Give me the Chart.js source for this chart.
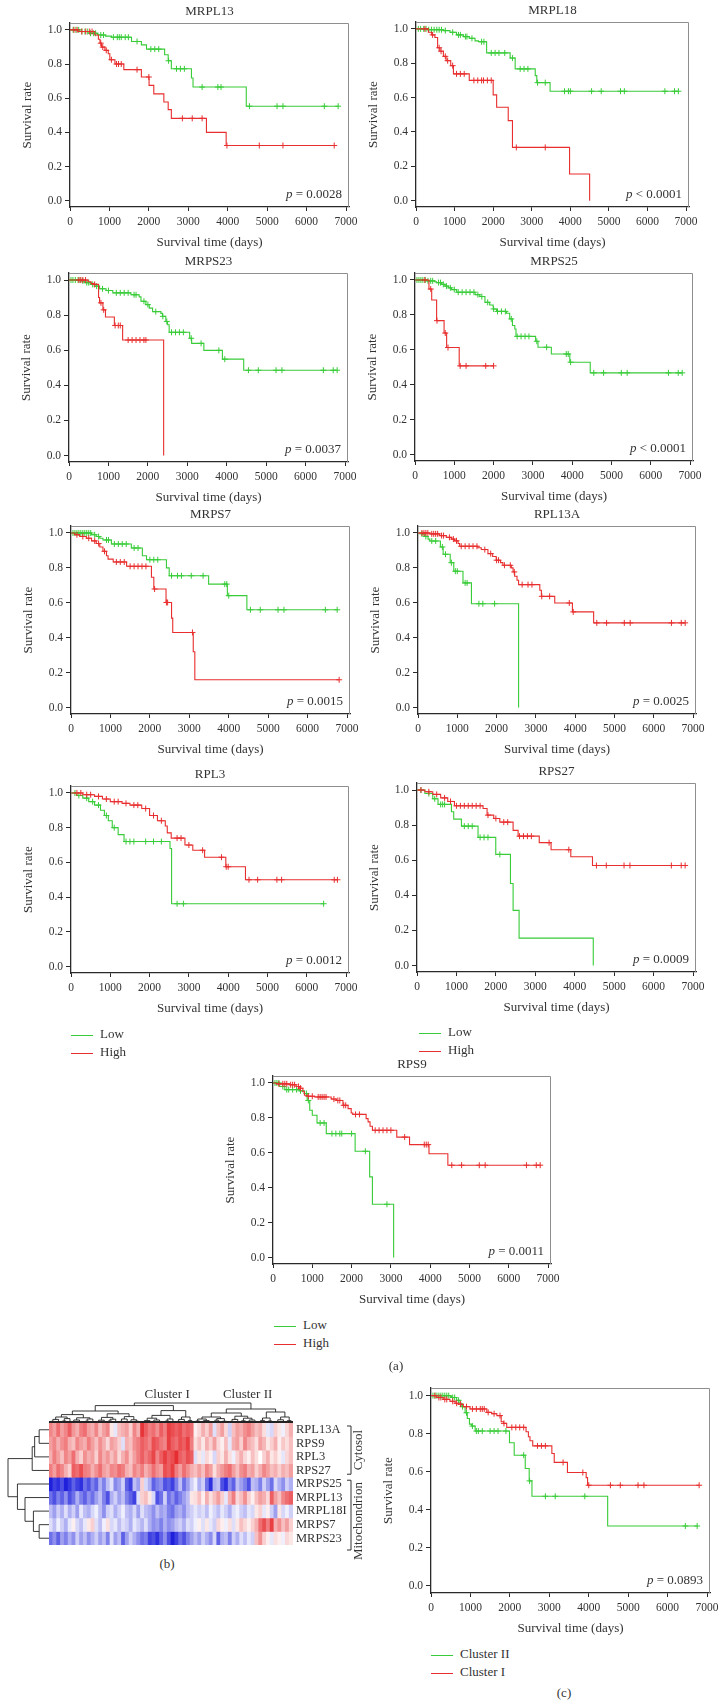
<!DOCTYPE html>
<html>
<head>
<meta charset="utf-8">
<script src="https://cdn.jsdelivr.net/npm/chart.js@4.4.1/dist/chart.umd.min.js"></script>
<style>
  body { margin: 0; background: #fff; }
  #page { position: relative; width: 726px; height: 1708px; overflow: hidden;
          font-family: 'Liberation Serif', 'DejaVu Serif', serif; color: #333; }
  canvas { position: absolute; }
  .lbl { position: absolute; font-size: 13px; line-height: 16px; white-space: nowrap; transform: translate(-50%, -50%); }
  .leg { position: absolute; font-size: 13px; line-height: 18px; white-space: nowrap; }
  .leg .ln { display: inline-block; width: 22px; height: 0; border-top: 1.3px solid; vertical-align: middle; margin-right: 7px; }
</style>
</head>
<body>
<div id="page"></div>
<script>
// ---- data: Kaplan-Meier steps [time, survival] and censor times ----
const mrpl13Low = [[0,1],[250,0.99],[480,0.98],[700,0.97],[900,0.963],[1050,0.957],[1560,0.932],[1810,0.912],[1940,0.887],[2400,0.854],[2490,0.819],[2570,0.772],[3080,0.718],[3120,0.665],[4470,0.553]];
const mrpl13LowCens = [80,150,220,300,380,450,520,600,650,780,850,1100,1200,1250,1300,1400,1480,1700,2050,2150,2250,2500,2700,2800,2900,3350,3750,3830,4550,5250,5400,6450,6800];
const mrpl13High = [[0,1],[200,0.99],[630,0.97],[720,0.945],[760,0.922],[800,0.899],[885,0.88],[970,0.86],[1010,0.825],[1140,0.80],[1365,0.767],[1810,0.724],[2005,0.675],[2125,0.625],[2380,0.578],[2490,0.533],[2570,0.482],[3460,0.40],[3960,0.323]];
const mrpl13HighCens = [100,180,300,400,500,560,780,830,920,1050,1180,1230,1300,1700,2000,2850,3100,3350,3980,4800,5400,6700];

const mrpl18Low = [[0,1],[300,0.995],[710,0.99],[880,0.98],[1050,0.965],[1230,0.955],[1380,0.945],[1530,0.93],[1620,0.925],[1830,0.86],[2440,0.83],[2570,0.767],[3090,0.728],[3130,0.687],[3475,0.637]];
const mrpl18LowCens = [60,120,200,260,330,400,470,540,600,660,760,950,1100,1150,1280,1320,1450,1700,1760,1950,2050,2150,2300,2500,2700,2800,2900,3150,3350,3850,3950,4000,4550,4800,5300,5400,6450,6700,6800];
const mrpl18High = [[0,1],[320,0.98],[405,0.965],[490,0.95],[560,0.89],[620,0.87],[710,0.84],[780,0.815],[900,0.786],[970,0.738],[1380,0.70],[2000,0.616],[2090,0.544],[2390,0.466],[2500,0.31],[3980,0.155],[4500,0]];
const mrpl18HighCens = [230,430,600,650,760,820,950,1050,1150,1250,1500,1600,1700,1750,1850,1950,2600,3350];

const mrps23Low = [[0,1],[300,0.995],[400,0.985],[550,0.975],[650,0.965],[775,0.95],[940,0.94],[1110,0.927],[1570,0.916],[1780,0.904],[1825,0.879],[1950,0.86],[2035,0.84],[2120,0.82],[2330,0.81],[2370,0.793],[2455,0.764],[2500,0.745],[2540,0.702],[3060,0.668],[3110,0.639],[3420,0.599],[3890,0.549],[4430,0.486]];
const mrps23LowCens = [50,100,160,230,280,350,450,500,600,700,850,1000,1200,1300,1400,1500,1650,1700,1900,2000,2200,2380,2480,2600,2700,2800,2900,3100,3350,3800,3950,4550,4800,5250,5400,6450,6700,6800];
const mrps23High = [[0,1],[480,0.99],[560,0.98],[650,0.975],[750,0.9],[775,0.87],[860,0.83],[925,0.789],[1150,0.741],[1360,0.658],[2400,0]];
const mrps23HighCens = [250,300,350,420,650,810,880,1170,1250,1300,1500,1600,1700,1800,1900,1950];

const mrps25Low = [[0,1],[300,0.995],[500,0.99],[550,0.985],[680,0.975],[760,0.965],[850,0.955],[930,0.945],[1060,0.93],[1530,0.916],[1650,0.905],[1780,0.872],[1900,0.857],[1990,0.834],[2075,0.82],[2330,0.809],[2410,0.777],[2480,0.739],[2540,0.719],[2570,0.677],[3070,0.649],[3130,0.615],[3470,0.576],[3940,0.529],[4460,0.468]];
const mrps25LowCens = [50,100,150,200,260,330,400,450,600,650,720,800,900,1000,1100,1200,1300,1400,1500,1600,1700,1850,2000,2100,2200,2300,2450,2600,2700,2800,2900,3100,3350,3850,3900,3960,4550,4800,5250,5400,6450,6700,6800];
const mrps25High = [[0,1],[355,0.948],[425,0.885],[550,0.767],[740,0.696],[805,0.613],[1125,0.508]];
const mrps25HighCens = [250,400,560,770,840,1150,1300,1800,2000];

const mrps7Low = [[0,1],[520,0.99],[640,0.98],[730,0.97],[810,0.96],[1025,0.937],[1530,0.914],[1810,0.87],[1915,0.847],[2420,0.80],[2490,0.755],[3490,0.707],[3965,0.641],[4460,0.56]];
const mrps7LowCens = [50,100,150,200,250,300,350,400,450,500,600,700,900,950,1100,1200,1300,1400,1600,1700,2000,2100,2200,2550,2700,2800,3050,3350,3900,3950,4000,4550,4800,5250,5400,6450,6750];
const mrps7High = [[0,1],[95,0.99],[220,0.98],[390,0.97],[520,0.955],[640,0.94],[730,0.92],[810,0.895],[900,0.87],[940,0.85],[1070,0.834],[1410,0.809],[2040,0.746],[2100,0.679],[2410,0.602],[2550,0.512],[2580,0.43],[3100,0.32],[3140,0.159]];
const mrps7HighCens = [150,300,450,600,700,850,1150,1250,1350,1500,1600,1700,1800,1900,2120,2420,2450,3080,6800];

const rpl13aLow = [[0,1],[85,0.995],[170,0.98],[255,0.965],[300,0.954],[570,0.92],[640,0.878],[820,0.83],[910,0.781],[1145,0.714],[1360,0.595],[2560,0]];
const rpl13aLowCens = [100,200,350,450,620,700,850,950,1000,1200,1250,1550,1650,1950];
const rpl13aHigh = [[0,1],[300,0.995],[550,0.985],[720,0.975],[850,0.965],[930,0.955],[1020,0.94],[1060,0.924],[1525,0.915],[1610,0.905],[1780,0.882],[1900,0.865],[1990,0.844],[2100,0.83],[2160,0.815],[2375,0.80],[2420,0.777],[2460,0.752],[2520,0.729],[2560,0.704],[3100,0.672],[3140,0.637],[3480,0.599],[3930,0.548],[4470,0.485]];
const rpl13aHighCens = [100,150,200,250,350,400,450,500,600,650,800,900,980,1100,1200,1300,1400,1500,1700,1850,2000,2050,2200,2350,2450,2650,2800,2900,3150,3350,3850,3950,4550,4800,5250,5400,6450,6700,6800];

const rpl3Low = [[0,1],[150,0.985],[300,0.97],[450,0.95],[600,0.93],[750,0.9],[850,0.87],[950,0.84],[1050,0.8],[1200,0.76],[1350,0.72],[2520,0.68],[2560,0.362]];
const rpl3LowCens = [100,200,400,550,700,900,1100,1400,1500,1600,1900,2100,2300,2700,2860,6430];
const rpl3High = [[0,1],[300,0.99],[600,0.98],[800,0.965],[1000,0.95],[1300,0.94],[1500,0.93],[1800,0.91],[2000,0.87],[2200,0.84],[2400,0.81],[2450,0.77],[2550,0.74],[2900,0.70],[3100,0.67],[3400,0.63],[3940,0.575],[4440,0.50]];
const rpl3HighCens = [150,250,400,500,700,900,1100,1200,1400,1600,1700,1900,2100,2300,2700,2800,3000,3350,3830,3950,4000,4530,4750,5240,5360,6700,6780];

const rps27Low = [[0,1],[200,0.98],[400,0.95],[533,0.918],[873,0.876],[931,0.834],[1126,0.794],[1548,0.73],[1997,0.633],[2370,0.467],[2437,0.314],[2589,0.156],[4470,0]];
const rps27LowCens = [100,300,450,600,650,700,1200,1300,1400,1600,1700,1800,2100];
const rps27High = [[0,1],[200,0.99],[400,0.975],[600,0.955],[780,0.935],[950,0.91],[1675,0.895],[1777,0.857],[1946,0.838],[2100,0.817],[2437,0.77],[2564,0.737],[3100,0.70],[3400,0.66],[3900,0.62],[4450,0.57]];
const rps27HighCens = [100,300,500,700,850,1000,1100,1200,1300,1400,1500,1600,1800,2000,2200,2300,2600,2700,2800,2900,3350,3850,4550,4800,5250,5400,6450,6700,6800];

const rps9Low = [[0,1],[170,0.98],[300,0.962],[680,0.955],[800,0.94],[870,0.9],[935,0.844],[1000,0.815],[1120,0.771],[1356,0.71],[2090,0.609],[2460,0.462],[2530,0.305],[3070,0]];
const rps9LowCens = [50,100,150,250,350,400,500,600,700,850,900,1200,1300,1500,1600,1700,1750,2000,2350,2900];
const rps9High = [[0,1],[85,0.995],[420,0.99],[590,0.98],[680,0.97],[760,0.95],[800,0.93],[890,0.924],[1060,0.92],[1480,0.908],[1610,0.9],[1780,0.872],[1910,0.853],[1990,0.828],[2030,0.82],[2370,0.796],[2420,0.777],[2470,0.752],[2530,0.729],[3150,0.69],[3475,0.647],[3970,0.595],[4450,0.529]];
const rps9HighCens = [150,250,300,350,450,500,550,650,700,900,1000,1150,1200,1250,1300,1350,1550,1650,1700,1800,1850,2100,2200,2600,2700,2800,2900,3000,3350,3850,3900,3950,4550,4800,5250,5400,6450,6700,6800];

const cluster2 = [[0,1],[500,0.995],[525,0.99],[650,0.975],[735,0.96],[780,0.942],[865,0.91],[920,0.88],[975,0.85],[1030,0.84],[1120,0.814],[1990,0.752],[2110,0.687],[2390,0.617],[2490,0.552],[2560,0.471],[4480,0.315]];
const cluster2Cens = [50,100,150,200,250,300,350,400,450,550,600,700,800,900,1050,1150,1200,1300,1500,1600,1700,1900,2350,2500,2900,3150,3900,6450,6750];
const cluster1 = [[0,1],[145,0.99],[310,0.98],[480,0.97],[610,0.96],[695,0.955],[820,0.942],[990,0.93],[1415,0.912],[1540,0.905],[1670,0.895],[1780,0.863],[1840,0.854],[1920,0.833],[2410,0.81],[2470,0.784],[2510,0.763],[2580,0.736],[3065,0.696],[3125,0.649],[3460,0.596],[3935,0.569],[3970,0.529]];
const cluster1Cens = [100,200,250,350,400,550,650,750,900,1050,1150,1250,1300,1350,1450,1600,1750,1850,2050,2150,2250,2350,2700,2800,2900,3350,3850,4000,4550,4800,5250,5400,6800];

const X_TICKS = [0,1000,2000,3000,4000,5000,6000,7000];
const Y_TICKS = [0,0.2,0.4,0.6,0.8,1.0];

// ---- heatmap (b): row genes, cell values (red +, blue -) ----
const ROW_NAMES = ['RPL13A','RPS9','RPL3','RPS27','MRPS25','MRPL13','MRPL18I','MRPS7','MRPS23'];
const rowRPL13A = [1.5,1.2,1.8,1.2,1.5,2.0,1.3,1.0,1.6,1.8,1.2,1.0,1.5,0.8,1.2,1.5,0.3,-0.3,0.8,1.0,1.2,0.6,1.5,1.0,2.5,2.0,1.6,1.8,1.4,2.0,1.6,2.4,2.2,2.0,2.2,1.8,2.0,1.8,0.2,0.5,1.0,0.6,1.2,-0.4,0.8,1.2,0.5,-0.6,0.8,1.2,1.0,1.4,1.6,1.2,0.8,1.0,0.4,-0.3,-0.5,0.6,0.3,-0.2,0.5,1.0];
const rowRPS9 = [1.2,1.5,1.0,1.4,1.6,1.0,0.8,1.5,1.2,1.0,1.6,1.2,0.8,1.4,1.0,0.5,1.2,1.0,0.6,-0.4,1.0,0.8,1.4,1.6,2.0,1.8,1.5,2.2,2.0,1.7,1.5,2.4,2.0,1.8,2.2,2.0,2.4,1.6,0.4,0.8,0.3,1.0,0.6,1.2,0.5,0.2,0.8,-0.3,1.0,1.2,0.6,1.5,1.0,0.8,0.4,1.2,0.9,0.3,0.6,1.0,0.2,0.7,0.4,0.8];
const rowRPL3 = [1.0,1.6,1.2,0.8,1.5,1.2,1.8,1.0,0.6,1.4,1.0,1.2,0.6,1.5,1.0,1.3,0.8,1.2,0.5,1.0,1.4,0.7,1.2,1.6,2.0,1.6,1.9,2.3,1.5,2.0,2.4,2.0,2.2,2.6,2.0,1.8,2.2,2.0,-0.4,0.3,-0.3,0.5,0.2,-0.5,0.6,0.3,1.0,0.4,-0.2,0.6,1.0,0.5,0.2,0.8,0.4,0.0,0.6,1.0,0.3,0.6,0.2,-0.3,0.5,0.8];
const rowRPS27 = [1.6,1.2,1.8,1.5,1.0,0.6,2.0,1.8,2.2,1.6,1.5,1.0,1.4,1.8,1.2,1.0,1.5,1.4,1.8,1.6,1.0,0.8,1.5,1.2,1.6,1.0,1.3,1.8,1.4,1.2,2.2,2.0,2.4,1.6,1.2,1.8,1.4,1.0,0.8,1.2,0.8,1.5,1.2,0.4,1.0,1.3,1.6,1.8,1.2,0.8,1.4,1.6,1.0,1.2,0.6,1.0,1.5,1.2,0.8,1.0,0.6,1.0,0.8,1.2];
const rowMRPS25 = [-2.8,-2.4,-2.6,-2.2,-2.8,-2.5,-2.0,-2.4,-2.6,-1.8,-2.2,-1.6,-2.0,-1.0,-1.6,-0.8,-0.4,-1.5,-1.2,-0.6,-2.0,-2.4,-0.8,-1.2,0.6,-0.5,-1.0,-2.0,-1.6,-1.4,-2.2,-2.0,-2.4,-1.6,-0.8,-1.8,-1.2,-0.6,-0.2,-1.0,-0.6,-1.8,-2.6,-1.0,-0.8,-2.2,-2.6,-1.5,-2.0,-0.8,-1.2,-1.6,-2.2,-0.8,-1.0,-1.6,-0.6,-1.2,-1.8,-0.5,-1.0,-1.4,-0.6,-1.0];
const rowMRPL13 = [-1.8,-2.2,-1.6,-2.0,-1.4,-2.2,-1.8,-1.0,-1.6,-2.0,-1.4,-1.8,-1.2,-0.8,-1.6,-2.2,-1.0,-0.6,-1.2,-0.8,-1.6,-2.0,-2.4,-0.4,0.6,0.8,0.3,-0.5,-2.2,-1.8,-0.6,-1.8,-1.4,-2.0,-1.6,-1.2,-0.8,0.3,0.4,0.8,0.2,1.0,0.4,0.8,1.2,0.6,-0.3,1.0,1.6,0.5,0.8,1.4,0.6,0.2,0.8,1.2,1.0,0.5,2.0,1.2,0.8,1.5,1.8,2.0];
const rowMRPL18 = [-0.8,-1.2,-0.6,-1.0,-0.4,-1.0,-0.6,-1.2,-0.3,-0.8,-1.0,-0.5,-0.2,-0.8,-1.4,-0.6,-0.4,-1.0,-0.6,-0.2,-0.8,-1.0,-0.5,-1.2,-0.4,-0.8,-1.0,-1.4,-0.8,-1.2,-1.0,-1.6,-1.8,-1.2,-1.0,-1.4,-0.8,-0.6,-0.3,-0.6,-0.4,-0.8,-0.2,-0.5,-0.8,-0.3,-0.6,-1.0,-0.4,-0.2,-0.6,-0.8,-0.3,-0.5,0.3,0.6,-0.3,0.2,-0.6,-1.2,0.3,-0.5,-0.2,-0.6];
const rowMRPS7 = [-0.4,-0.8,-0.2,-0.6,-1.0,-0.3,0.2,-0.5,-0.8,-0.3,0.3,0.6,-0.4,-0.8,-0.2,0.4,-0.5,-0.3,-0.8,-0.4,-0.6,-1.0,-0.3,-0.6,-0.9,-0.4,-1.0,-1.4,-1.2,-1.6,-1.0,-1.4,-1.2,-0.8,-0.6,-1.0,-0.4,-0.6,-0.2,0.2,-0.4,0.3,-0.3,-0.6,0.5,0.2,-0.2,0.4,-0.4,0.3,0.8,0.5,0.2,0.6,1.0,1.8,2.2,1.6,2.4,1.0,1.4,0.8,1.2,0.6];
const rowMRPS23 = [-1.8,-1.4,-2.0,-1.2,-1.6,-1.0,-1.4,-0.6,-1.2,-0.8,-1.4,-1.0,-0.6,-1.2,-0.8,-1.6,-0.4,-1.2,-0.8,-2.0,-1.2,-0.6,-1.0,-1.4,-1.8,-1.6,-2.4,-2.2,-2.6,-2.0,-1.4,-2.2,-2.8,-2.4,-1.8,-2.2,-1.6,-1.2,-0.8,-1.2,-0.6,-1.0,-1.4,-0.5,-2.0,-1.0,-0.8,-1.6,-0.6,-1.0,-0.4,-0.8,-0.3,-0.6,0.8,1.4,0.6,0.2,-0.3,0.4,0.2,-0.2,0.5,0.3];
const HEAT_ROWS = [rowRPL13A,rowRPS9,rowRPL3,rowRPS27,rowMRPS25,rowMRPL13,rowMRPL18,rowMRPS7,rowMRPS23];

// dendrograms: [height, left, right], leaves are indices
const ROW_TREE = [1.0, [0.41, [0.35, [0.24, 0, 1], 2], 3], [0.77, 4, [0.585, 5, [0.38, 6, [0.24, 7, 8]]]]];
const COL_TREE = [1.0,
  [0.87,
    [0.6,
      [0.42, [0.3, [0.18, [0.08, 0, 1], 2], [0.22, [0.1, 3, 4], 5]], [0.26, [0.15, 6, [0.07, 7, 8]], [0.2, [0.09, 9, 10], 11]]],
      [0.46, [0.28, [0.14, [0.06, 12, 13], 14], [0.19, [0.1, 15, 16], 17]], [0.32, [0.2, [0.08, 18, 19], 20], [0.16, 21, [0.09, 22, 23]]]]],
    [0.62,
      [0.38, [0.24, [0.12, [0.05, 24, 25], 26], [0.15, 27, [0.07, 28, 29]]], [0.2, [0.1, 30, 31], 32]],
      [0.3, [0.18, [0.08, 33, 34], 35], [0.12, 36, 37]]]],
  [0.7,
    [0.5,
      [0.3, [0.2, [0.1, 38, 39], [0.12, 40, [0.05, 41, 42]]], [0.22, [0.14, 43, 44], [0.09, 45, 46]]],
      [0.34, [0.18, [0.08, 47, 48], 49], [0.24, [0.11, 50, 51], [0.15, 52, [0.06, 53, 54]]]]],
    [0.55, [0.25, [0.13, 55, 56], [0.1, 57, 58]], [0.3, [0.16, [0.07, 59, 60], 61], [0.12, 62, 63]]]]];

// ---- drawing ----
const GREEN = 'rgb(56,204,56)';
const RED = 'rgb(232,46,46)';
const INK = '#333';
const AXIS = '#2a2a2a';
const SERIF = "'Liberation Serif', 'DejaVu Serif', serif";
const page = document.getElementById('page');

function addCanvas(left, top, w, h) {
  const c = document.createElement('canvas');
  c.width = w; c.height = h;
  c.style.left = left + 'px'; c.style.top = top + 'px';
  c.style.width = w + 'px'; c.style.height = h + 'px';
  page.appendChild(c);
  return c;
}

function addText(cls, x, y, html) {
  const d = document.createElement('div');
  d.className = cls;
  d.style.left = x + 'px'; d.style.top = y + 'px';
  d.innerHTML = html;
  page.appendChild(d);
}

function addLegend(x, y, names) {
  addText('leg', x, y - 9, '<span class="ln" style="border-color:' + GREEN + '"></span>' + names[0]);
  addText('leg', x, y + 9, '<span class="ln" style="border-color:' + RED + '"></span>' + names[1]);
}

function survAt(steps, t) {
  let s = 1;
  for (const [ti, si] of steps) if (ti <= t) s = si;
  return s;
}

function curvePoints(steps, cens) {
  const pts = steps.map(([x, y]) => ({ x, y }));
  const last = steps[steps.length - 1];
  const tEnd = Math.max(...cens);
  if (tEnd > last[0] && last[1] > 0) pts.push({ x: tEnd, y: last[1] });
  return pts;
}

const kmDecor = {
  id: 'kmDecor',
  beforeDatasetsDraw(chart) {
    const { ctx, chartArea: a } = chart;
    ctx.save();
    ctx.strokeStyle = '#8e8e8e';
    ctx.lineWidth = 1;
    ctx.beginPath();
    ctx.moveTo(a.left, a.top + 0.5);
    ctx.lineTo(a.right - 0.5, a.top + 0.5);
    ctx.lineTo(a.right - 0.5, a.bottom);
    ctx.stroke();
    ctx.restore();
  },
  afterDraw(chart, args, opts) {
    const { ctx, chartArea: a } = chart;
    ctx.save();
    ctx.fillStyle = INK;
    ctx.textBaseline = 'middle';
    if (opts.title) {
      ctx.font = '13px ' + SERIF;
      ctx.textAlign = 'center';
      ctx.fillText(opts.title, (a.left + a.right) / 2, a.top - 11);
    }
    ctx.textAlign = 'right';
    ctx.font = '13px ' + SERIF;
    const x = a.right - 7, y = a.bottom - 12;
    ctx.fillText(opts.pText, x, y);
    const w = ctx.measureText(opts.pText).width;
    ctx.font = 'italic 13px ' + SERIF;
    ctx.fillText('p', x - w, y);
    ctx.restore();
  }
};

function kmChart(box, title, pText, low, lowCens, high, highCens) {
  const L = Math.round(box[0]), T = Math.round(box[1]), R = Math.round(box[2]), B = Math.round(box[3]);
  const padL = 65, padT = 25, padR = 20, padB = 52;
  const cv = addCanvas(L - padL, T - padT, R - L + padL + padR, B - T + padT + padB);
  const tickFont = { family: SERIF, size: 11.5 };
  const titleFont = { family: SERIF, size: 13 };
  const line = (steps, cens, color) => ({
    data: curvePoints(steps, cens), borderColor: color, borderWidth: 1.1,
    stepped: 'before', pointRadius: 0, fill: false
  });
  const marks = (steps, cens, color) => ({
    data: cens.map(t => ({ x: t, y: survAt(steps, t) })), borderColor: color,
    showLine: false, pointStyle: 'cross', pointRadius: 3, borderWidth: 1
  });
  new Chart(cv, {
    type: 'line',
    data: {
      datasets: [
        line(high, highCens, RED), marks(high, highCens, RED),
        line(low, lowCens, GREEN), marks(low, lowCens, GREEN)
      ]
    },
    plugins: [kmDecor],
    options: {
      responsive: false, animation: false, devicePixelRatio: 1,
      layout: { padding: { top: padT, right: padR, left: 0, bottom: 0 } },
      plugins: { legend: { display: false }, tooltip: { enabled: false }, kmDecor: { title, pText } },
      scales: {
        x: {
          type: 'linear', min: 0, max: 7075,
          afterBuildTicks: s => { s.ticks = X_TICKS.map(v => ({ value: v })); },
          afterFit: s => { s.height = padB; },
          grid: { drawOnChartArea: false, drawTicks: true, tickLength: 4, color: AXIS },
          border: { color: AXIS, width: 1.3 },
          ticks: { font: tickFont, color: INK, padding: 4, maxRotation: 0, autoSkip: false, callback: v => String(v) },
          title: { display: true, text: 'Survival time (days)', font: titleFont, color: INK, padding: { top: 0, bottom: 9 } }
        },
        y: {
          type: 'linear', min: -0.037, max: 1.04,
          afterBuildTicks: s => { s.ticks = Y_TICKS.map(v => ({ value: v })); },
          afterFit: s => { s.width = padL; },
          grid: { drawOnChartArea: false, drawTicks: true, tickLength: 5, color: AXIS },
          border: { color: AXIS, width: 1.3 },
          ticks: { font: tickFont, color: INK, padding: 3, autoSkip: false, callback: v => v.toFixed(1) },
          title: { display: true, text: 'Survival rate', font: titleFont, color: INK, padding: { top: 15, bottom: 0 } }
        }
      }
    }
  });
}

kmChart([70, 22.7, 349.3, 207.3], 'MRPL13', ' = 0.0028', mrpl13Low, mrpl13LowCens, mrpl13High, mrpl13HighCens);
kmChart([415.7, 22, 689, 206.7], 'MRPL18', ' < 0.0001', mrpl18Low, mrpl18LowCens, mrpl18High, mrpl18HighCens);
kmChart([69.3, 273.3, 347.7, 461.7], 'MRPS23', ' = 0.0037', mrps23Low, mrps23LowCens, mrps23High, mrps23HighCens);
kmChart([414.7, 272.7, 693, 460.7], 'MRPS25', ' < 0.0001', mrps25Low, mrps25LowCens, mrps25High, mrps25HighCens);
kmChart([71.3, 526, 350, 714.3], 'MRPS7', ' = 0.0015', mrps7Low, mrps7LowCens, mrps7High, mrps7HighCens);
kmChart([418, 526, 696.3, 714], 'RPL13A', ' = 0.0025', rpl13aLow, rpl13aLowCens, rpl13aHigh, rpl13aHighCens);
kmChart([70.7, 786, 349, 973.3], 'RPL3', ' = 0.0012', rpl3Low, rpl3LowCens, rpl3High, rpl3HighCens);
kmChart([417.3, 783.3, 696, 972], 'RPS27', ' = 0.0009', rps27Low, rps27LowCens, rps27High, rps27HighCens);
kmChart([273.3, 1076, 551.3, 1264.3], 'RPS9', ' = 0.0011', rps9Low, rps9LowCens, rps9High, rps9HighCens);
kmChart([430.7, 1388.3, 709.7, 1592.7], '', ' = 0.0893', cluster2, cluster2Cens, cluster1, cluster1Cens);

addLegend(71, 1034, ['Low', 'High']);
addLegend(419, 1032, ['Low', 'High']);
addLegend(274, 1325, ['Low', 'High']);
addLegend(431, 1654, ['Cluster II', 'Cluster I']);
addText('lbl', 396, 1366, '(a)');
addText('lbl', 167, 1564, '(b)');
addText('lbl', 564, 1693, '(c)');

// ---- heatmap chart ----
function heatColor(v) {
  const t = Math.min(Math.abs(v) / 2.8, 1);
  const base = v >= 0 ? [228, 30, 34] : [30, 32, 220];
  const mix = c => Math.round(255 + (c - 255) * t);
  return 'rgb(' + mix(base[0]) + ',' + mix(base[1]) + ',' + mix(base[2]) + ')';
}

function walkTree(node, leafAt, seg) {
  if (typeof node === 'number') return { pos: leafAt(node), h: 0 };
  const [h, a, b] = node;
  const A = walkTree(a, leafAt, seg), B = walkTree(b, leafAt, seg);
  seg(A.pos, A.h, A.pos, h);
  seg(A.pos, h, B.pos, h);
  seg(B.pos, h, B.pos, B.h);
  return { pos: (A.pos + B.pos) / 2, h };
}

const heatDecor = {
  id: 'heatDecor',
  afterDraw(chart) {
    const { ctx, chartArea: a, scales } = chart;
    const xs = scales.x, ys = scales.y;
    ctx.save();
    ctx.strokeStyle = '#222';
    ctx.lineWidth = 0.9;
    ctx.beginPath();
    // column dendrogram above
    const colH = 20;
    walkTree(COL_TREE, i => xs.getPixelForValue(i), (p1, h1, p2, h2) => {
      ctx.moveTo(p1, a.top - h1 * colH); ctx.lineTo(p2, a.top - h2 * colH);
    });
    // row dendrogram on the left
    const rowW = 41;
    walkTree(ROW_TREE, i => ys.getPixelForValue(i + 0.5), (p1, h1, p2, h2) => {
      ctx.moveTo(a.left - h1 * rowW, p1); ctx.lineTo(a.left - h2 * rowW, p2);
    });
    ctx.stroke();
    // dense leaf band at the foot of the column dendrogram
    ctx.fillStyle = '#222';
    ctx.fillRect(a.left, a.top - 2, a.right - a.left, 2);

    // brackets
    const bx = a.right + 58;
    const rowTop = i => ys.getPixelForValue(i), rowBot = i => ys.getPixelForValue(i + 1);
    const groups = [
      { y0: rowTop(0) + 3, y1: rowBot(3) - 3, text: 'Cytosol', shift: 0 },
      { y0: rowTop(4) + 3, y1: rowBot(8) + 5, text: 'Mitochondrion', shift: 6 }
    ];
    ctx.strokeStyle = '#333';
    ctx.lineWidth = 1;
    ctx.beginPath();
    for (const g of groups) {
      ctx.moveTo(bx - 4, g.y0); ctx.lineTo(bx, g.y0); ctx.lineTo(bx, g.y1); ctx.lineTo(bx - 4, g.y1);
    }
    ctx.stroke();
    ctx.fillStyle = INK;
    ctx.font = '13px ' + SERIF;
    ctx.textAlign = 'center';
    ctx.textBaseline = 'middle';
    for (const g of groups) {
      ctx.save();
      ctx.translate(bx + 8, (g.y0 + g.y1) / 2 + g.shift);
      ctx.rotate(-Math.PI / 2);
      ctx.fillText(g.text, 0, 0);
      ctx.restore();
    }
    // cluster labels
    ctx.fillText('Cluster I', xs.getPixelForValue(30.5), a.top - 28);
    ctx.fillText('Cluster II', xs.getPixelForValue(51.6), a.top - 28);
    ctx.restore();
  }
};

const heatCv = addCanvas(0, 1385, 372, 185);
new Chart(heatCv, {
  type: 'bar',
  data: {
    labels: HEAT_ROWS[0].map((_, i) => i + 1),
    datasets: HEAT_ROWS.map((row, i) => ({
      label: ROW_NAMES[i],
      data: row.map(() => 1),
      backgroundColor: row.map(heatColor),
      borderWidth: 0, barPercentage: 1, categoryPercentage: 1
    }))
  },
  plugins: [heatDecor],
  options: {
    responsive: false, animation: false, devicePixelRatio: 1,
    layout: { padding: { left: 49, top: 38, right: 0, bottom: 25 } },
    plugins: { legend: { display: false }, tooltip: { enabled: false } },
    scales: {
      x: { display: false, stacked: true },
      y: {
        stacked: true, reverse: true, min: 0, max: 9, position: 'right',
        afterBuildTicks: s => { s.ticks = ROW_NAMES.map((_, i) => ({ value: i + 0.5 })); },
        afterFit: s => { s.width = 79; },
        grid: { display: false, drawTicks: false },
        border: { display: false },
        ticks: { font: { family: SERIF, size: 12.5 }, color: INK, padding: 3, autoSkip: false, callback: (v, i) => ROW_NAMES[i] }
      }
    }
  }
});
</script>
</body>
</html>
